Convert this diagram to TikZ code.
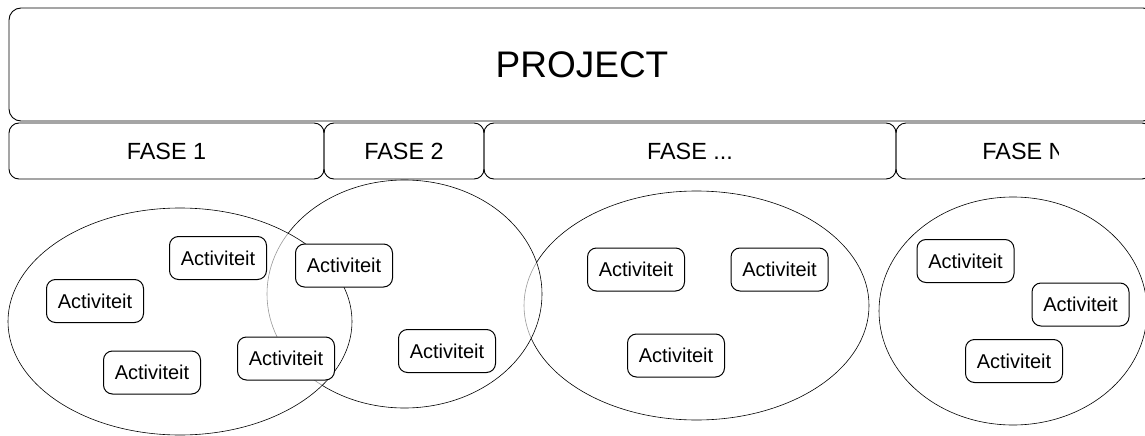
\documentclass[tikz,border=0pt]{standalone}
\usepackage{fontspec}
\setmainfont{Liberation Sans}
\usetikzlibrary{shapes.geometric}
\begin{document}
\begin{tikzpicture}[x=1pt,y=-1pt,
  projectbox/.style={draw, line width=0.9pt, rounded corners=12pt, inner sep=0pt,
    minimum width=1146pt, minimum height=113pt, font=\fontsize{37}{40}\selectfont},
  phasebox/.style={draw, line width=0.9pt, rounded corners=10pt, inner sep=0pt,
    minimum height=56pt, font=\fontsize{23.4}{26}\selectfont},
  group/.style={draw, ellipse, line width=0.6pt, fill=white, fill opacity=0.6, inner sep=0pt},
  task/.style={draw, line width=1pt, rounded corners=9pt, fill=white, inner sep=0pt,
    minimum width=97pt, minimum height=43pt, font=\fontsize{20}{22}\selectfont}]
\clip (0,0) rectangle (1145,436);
\fill[white] (0,0) rectangle (1145,436);

% project and phases
\node[projectbox] (project) at (582,64.5) {PROJECT};
\node[phasebox, minimum width=315pt] (f1) at (166.5,151) {FASE 1};
\node[phasebox, minimum width=160pt] (f2) at (404,151) {FASE 2};
\node[phasebox, minimum width=412pt] (f3) at (690,151) {FASE ...};
\node[phasebox, minimum width=256pt] (fn) at (1024,151) {};
\begin{scope}
  \clip (896,123) rectangle (1058,179);
  \node[font=\fontsize{23.4}{26}\selectfont, inner sep=0pt] (fnlabel) at (fn.center) {FASE N};
\end{scope}

% activity groups, drawn back to front
\node[group, minimum width=268pt, minimum height=228pt] (g4) at (1013,311) {};
\node[group, minimum width=345pt, minimum height=229pt] (g3) at (696.5,305.5) {};
\node[group, minimum width=275pt, minimum height=228pt] (g2) at (404.5,294) {};
\node[group, minimum width=344pt, minimum height=227pt] (g1) at (180,321.5) {};

% activities
\node[task] (a1) at (95,301) {Activiteit};
\node[task] (a2) at (218,258) {Activiteit};
\node[task] (a3) at (152,372.5) {Activiteit};
\node[task] (a4) at (286,358.5) {Activiteit};
\node[task] (a5) at (344,265.5) {Activiteit};
\node[task] (a6) at (447,351) {Activiteit};
\node[task] (a7) at (636,269.5) {Activiteit};
\node[task] (a8) at (779.5,269.5) {Activiteit};
\node[task] (a9) at (676,355.5) {Activiteit};
\node[task] (a10) at (965.5,261) {Activiteit};
\node[task] (a11) at (1080.5,304.5) {Activiteit};
\node[task] (a12) at (1014,361) {Activiteit};
\end{tikzpicture}
\end{document}
